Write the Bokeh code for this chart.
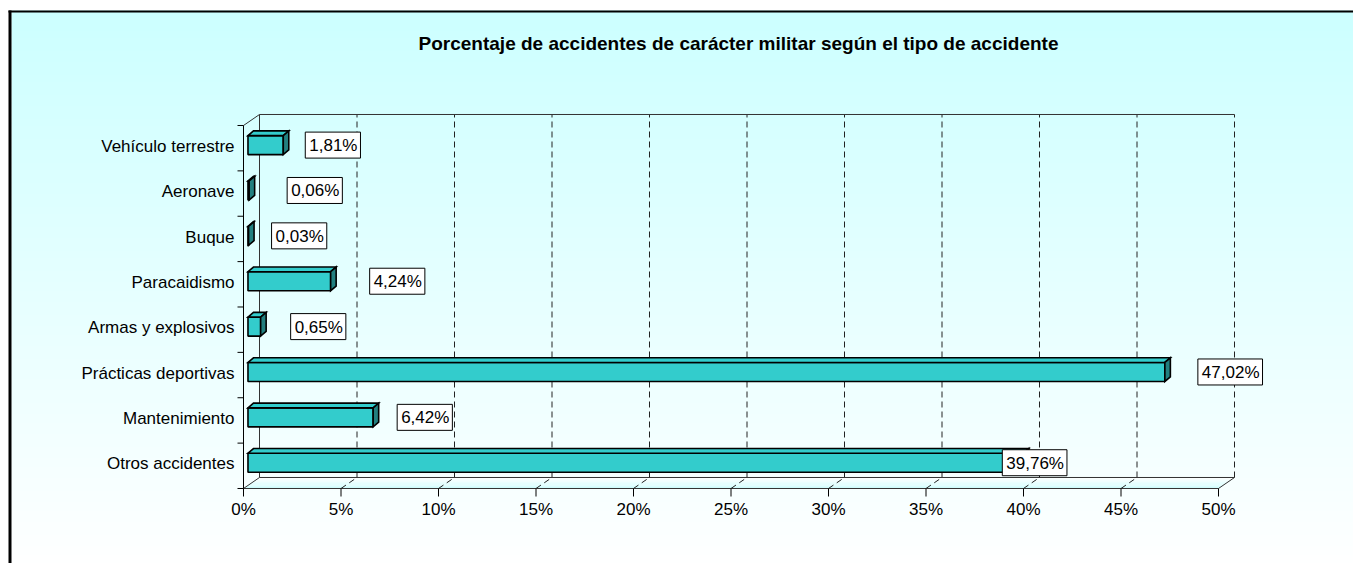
import numpy as np
from bokeh.plotting import figure
from bokeh.models import Range1d, Label
from bokeh.core.properties import value
from bokeh.embed import file_html
from bokeh.resources import INLINE

# ---------------- data ----------------
title_text = "Porcentaje de accidentes de carácter militar según el tipo de accidente"
categories = ["Vehículo terrestre", "Aeronave", "Buque", "Paracaidismo",
              "Armas y explosivos", "Prácticas deportivas", "Mantenimiento",
              "Otros accidentes"]
percent = [1.81, 0.06, 0.03, 4.24, 0.65, 47.02, 6.42, 39.76]
value_labels = ["1,81%", "0,06%", "0,03%", "4,24%", "0,65%", "47,02%", "6,42%", "39,76%"]
x_ticks = [0, 5, 10, 15, 20, 25, 30, 35, 40, 45, 50]
x_tick_labels = ["0%", "5%", "10%", "15%", "20%", "25%", "30%", "35%", "40%", "45%", "50%"]

# ---------------- layout (pixels) ----------------
label_shift_px = [19, 35, 20, 36, 27, 30, 21, -24]   # gap between bar end and label box
W, H = 1353, 563
OFF = 0
SX = 19.5      # px per percent
X0P = 243      # page x of 0 % on front plane
SY = 45.375    # px per category
Y0P = 465.3    # page y of first row centre on front plane
FONT = "Liberation Sans"
FS = "17px"

def dx(px):
    return (px - X0P) / SX

def dy(py):
    return (Y0P - py) / SY

DX = 16 / SX       # depth of 3D box
DY = 11 / SY
XMAX = x_ticks[-1]
UB, UT = -0.5, len(categories) - 0.5

p = figure(width=W, height=H, x_range=Range1d(dx(OFF), dx(OFF + W)),
           y_range=Range1d(dy(OFF + H), dy(OFF)),
           x_axis_type=None, y_axis_type=None, toolbar_location=None,
           output_backend="svg", min_border=0, outline_line_color=None,
           background_fill_color="white", border_fill_color="white")

# ---------------- background gradient ----------------
ys = np.arange(10, 600, 4.0)
cols = []
for y in ys:
    t = min(max((y - 10) / 560.0, 0), 1)
    g = int(round(204 + 51 * t))
    cols.append("#%02x%02x%02x" % (g, 255, 255))
p.quad(left=dx(11), right=dx(1400), top=[dy(y) for y in ys],
       bottom=[dy(y + 5) for y in ys], fill_color=cols, line_color=None)
# outer border
p.quad(left=dx(8), right=dx(11), top=dy(10), bottom=dy(600), fill_color="black", line_color=None)
p.quad(left=dx(8), right=dx(1400), top=dy(10), bottom=dy(12), fill_color="black", line_color=None)

# ---------------- floor ----------------
n = 8
fxs, fys, fcols = [], [], []
for k in range(n):
    t0, t1 = k / n, (k + 1) / n
    fxs.append([t0 * DX, XMAX + t0 * DX, XMAX + t1 * DX, t1 * DX])
    fys.append([UB + t0 * DY, UB + t0 * DY, UB + t1 * DY, UB + t1 * DY])
    g = int(round(208 + 47 * (k + 0.5) / n))
    fcols.append("#%02x%02x%02x" % (g, 255, 255))
p.patches(fxs, fys, fill_color=fcols, line_color=None)

# gridlines on back wall and floor
p.segment(x0=[g + DX for g in x_ticks[1:]], y0=UB + DY, x1=[g + DX for g in x_ticks[1:]],
          y1=UT + DY, line_color="#222222", line_dash="6 4", line_width=1)
p.segment(x0=x_ticks[1:-1], y0=UB, x1=[g + DX for g in x_ticks[1:-1]], y1=UB + DY,
          line_color="#222222", line_dash="6 4", line_width=1)

# box edges
edge_x0 = [DX, DX, 0, 0, XMAX, DX, 0]
edge_y0 = [UB + DY, UT + DY, UT, UB, UB, UB + DY, UB]
edge_x1 = [DX, XMAX + DX, DX, XMAX, XMAX + DX, XMAX + DX, DX]
edge_y1 = [UT + DY, UT + DY, UT + DY, UB, UB + DY, UB + DY, UB + DY]
p.segment(edge_x0, edge_y0, edge_x1, edge_y1, line_color="#333333", line_width=1)
# front value axis (left)
p.segment(x0=0, y0=UB, x1=0, y1=UT, line_color="black", line_width=1)

# ticks
p.segment(x0=x_ticks, y0=UB, x1=x_ticks, y1=dy(496), line_color="black", line_width=1)
bounds = [k - 0.5 for k in range(len(categories) + 1)]
p.segment(x0=dx(237), y0=bounds, x1=0, y1=bounds, line_color="black", line_width=1)

# tick labels
p.text(x=x_ticks, y=[dy(509)] * len(x_ticks), text=x_tick_labels,
       text_align="center", text_baseline="middle", text_font=value(FONT),
       text_font_size=FS, text_color="black")
rows = [len(categories) - 1 - k for k in range(len(categories))]
p.text(x=[dx(234)] * len(categories), y=[r + 0.04 for r in rows], text=categories,
       text_align="right", text_baseline="middle", text_font=value(FONT),
       text_font_size=FS, text_color="black")

# ---------------- bars ----------------
F = 0.28
bh = 9.5 / SY
bdx, bdy = 5.5 / SX, 4.7 / SY
front = dict(l=[], r=[], t=[], b=[])
txs, tys, sxs, sys_ = [], [], [], []
for v, r in zip(percent, rows):
    x0 = F * DX
    x1 = x0 + v
    uc = r + F * DY
    ub_, ut_ = uc - bh, uc + bh
    front["l"].append(x0); front["r"].append(x1)
    front["t"].append(ut_); front["b"].append(ub_)
    txs.append([x0, x1, x1 + bdx, x0 + bdx]); tys.append([ut_, ut_, ut_ + bdy, ut_ + bdy])
    sxs.append([x1, x1, x1 + bdx, x1 + bdx]); sys_.append([ub_, ut_, ut_ + bdy, ub_ + bdy])
p.quad(left=front["l"], right=front["r"], top=front["t"], bottom=front["b"],
       fill_color="#33CCCC", line_color="black", line_width=1.6)
p.patches(txs, tys, fill_color="#33CCCC", line_color="black", line_width=1.6, line_join="miter")
p.patches(sxs, sys_, fill_color="#227F7F", line_color="black", line_width=1.6, line_join="miter")

# value labels
for v, r, txt, sh in zip(percent, rows, value_labels, label_shift_px):
    p.add_layout(Label(x=F * DX + v, y=r + F * DY, x_offset=sh + 3, text=txt,
                       text_align="left", text_baseline="middle",
                       text_font=FONT, text_font_size=FS, text_color="black",
                       padding=(4, 3, 4, 3), background_fill_color="white",
                       border_line_color="black", border_line_width=1))

# title
p.text(x=[dx(738)], y=[dy(43)], text=[title_text], text_align="center",
       text_baseline="middle", text_font=value(FONT), text_font_size="19px",
       text_font_style="bold", text_color="black")

open("out.html", "w").write(file_html(p, INLINE))
